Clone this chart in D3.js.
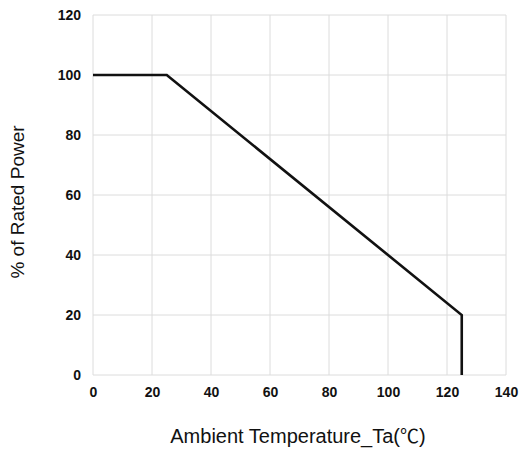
<!DOCTYPE html>
<html><head><meta charset="utf-8">
<script src="https://cdn.jsdelivr.net/npm/d3@7"></script>
<style>body{margin:0;background:#fff;} svg{display:block;}</style>
</head><body>
<svg id="chart" width="520" height="450"></svg>
<script>
const temps = [0, 25, 125, 125];
const power = [100, 100, 20, 0];
const xTicks = [0, 20, 40, 60, 80, 100, 120, 140];
const yTicks = [0, 20, 40, 60, 80, 100, 120];
const xTitle = "Ambient Temperature_Ta(";
const xTitleUnit = "\u2103";
const yTitle = "% of Rated Power";

const svg = d3.select("#chart");
const x = d3.scaleLinear().domain([0, 140]).range([93, 506]);
const y = d3.scaleLinear().domain([0, 120]).range([375, 15]);

// grid
svg.append("g").selectAll("line").data(xTicks).join("line")
  .attr("x1", d => x(d)).attr("x2", d => x(d)).attr("y1", y(0)).attr("y2", y(120))
  .attr("stroke", "#dcdcdc").attr("stroke-width", 1);
svg.append("g").selectAll("line").data(yTicks).join("line")
  .attr("x1", x(0)).attr("x2", x(140)).attr("y1", d => y(d)).attr("y2", d => y(d))
  .attr("stroke", "#dcdcdc").attr("stroke-width", 1);

// axes (labels only)
const xAxis = svg.append("g").attr("transform", `translate(0,${y(0)})`)
  .call(d3.axisBottom(x).tickValues(xTicks).tickSize(0).tickPadding(12));
const yAxis = svg.append("g").attr("transform", `translate(${x(0)},0)`)
  .call(d3.axisLeft(y).tickValues(yTicks).tickSize(0).tickPadding(12));
[xAxis, yAxis].forEach(a => {
  a.select(".domain").remove();
  a.selectAll("text").attr("font-family", "Liberation Sans, Arial, sans-serif")
    .attr("font-size", 14).attr("font-weight", "bold").attr("fill", "#111");
});

// line
const pts = temps.map((t, i) => [t, power[i]]);
svg.append("path").datum(pts)
  .attr("d", d3.line().x(d => x(d[0])).y(d => y(d[1])))
  .attr("fill", "none").attr("stroke", "#111").attr("stroke-width", 2.6)
  .attr("stroke-linejoin", "miter");

// titles
const xt = svg.append("text").attr("x", 298).attr("y", 443).attr("text-anchor", "middle")
  .attr("font-family", "Liberation Sans, Arial, sans-serif").attr("font-size", 20)
  .attr("fill", "#111");
xt.append("tspan").text(xTitle);
xt.append("tspan").attr("font-family", "Noto Sans CJK SC").attr("font-size", 19).text(xTitleUnit);
xt.append("tspan").text(")");
svg.append("text").attr("transform", "translate(24,202) rotate(-90)").attr("text-anchor", "middle")
  .attr("font-family", "Liberation Sans, Arial, sans-serif").attr("font-size", 19)
  .attr("fill", "#111").text(yTitle);
</script>
</body></html>
